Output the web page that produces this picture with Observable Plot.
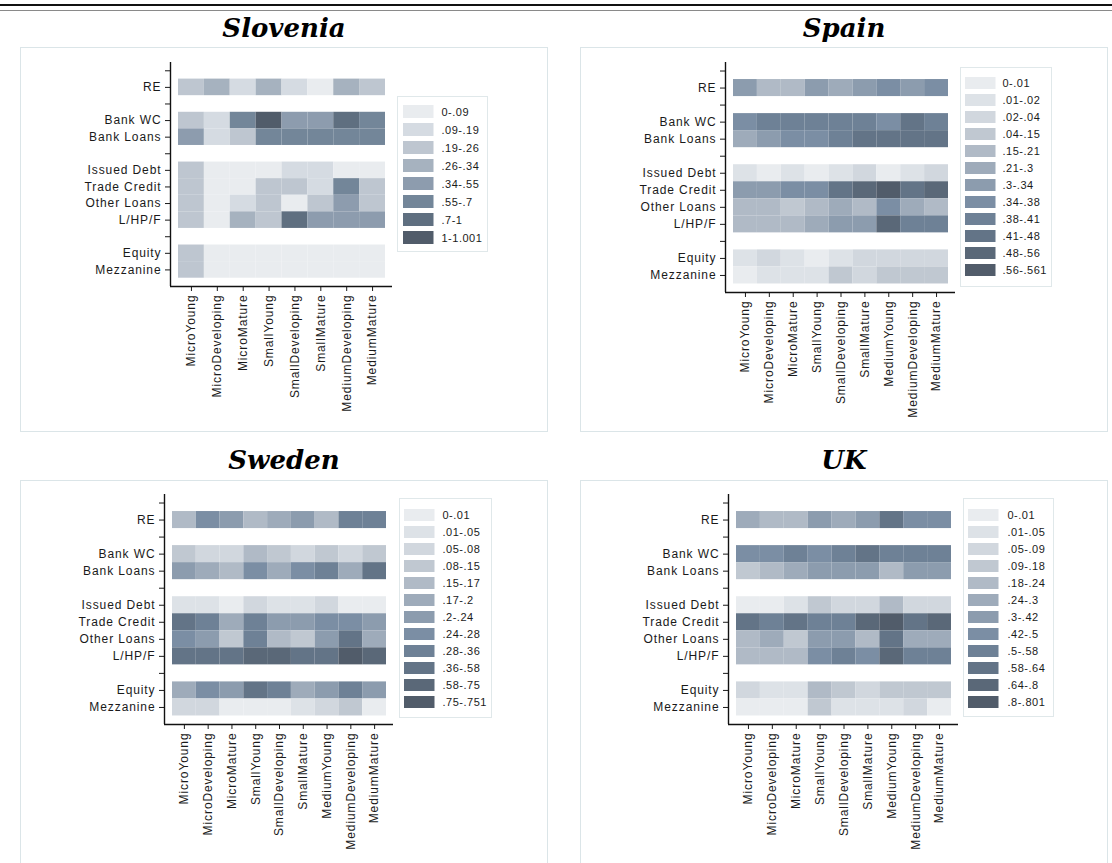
<!DOCTYPE html>
<html>
<head>
<meta charset="utf-8">
<script src="https://cdn.jsdelivr.net/npm/d3@7"></script>
<script src="https://cdn.jsdelivr.net/npm/@observablehq/plot@0.6"></script>
<style>
  html, body { margin: 0; padding: 0; background: #fff; }
  #page { position: relative; width: 1112px; height: 863px; overflow: hidden; background: #fff; }
  .abs { position: absolute; }
  .title { font-family: "DejaVu Serif", "Liberation Serif", serif; font-weight: bold; font-style: italic; font-size: 26px; line-height: 30px; color: #000; text-align: center; width: 528px; }
  .panel { border: 1px solid #dbe5e8; box-sizing: border-box; }
  .legbox { border: 1px solid #e0e8ea; box-sizing: border-box; }
</style>
</head>
<body>
<div id="page"></div>
<script>
// ---------- data ----------
const rowTicks = ["", "RE", "", "Bank WC", "Bank Loans", "", "Issued Debt", "Trade Credit", "Other Loans", "L/HP/F", "", "Equity", "Mezzanine"];
const rows = ["RE", "Bank WC", "Bank Loans", "Issued Debt", "Trade Credit", "Other Loans", "L/HP/F", "Equity", "Mezzanine"];

const colsSlovenia = ["MicroYoung", "MicroDeveloping", "MicroMature", "SmallYoung", "SmallDeveloping", "SmallMature", "MediumDeveloping", "MediumMature"];
const colsOther = ["MicroYoung", "MicroDeveloping", "MicroMature", "SmallYoung", "SmallDeveloping", "SmallMature", "MediumYoung", "MediumDeveloping", "MediumMature"];

const countries = ["Slovenia", "Spain", "Sweden", "UK"];

// values[row][col]
const valuesSlovenia = [
  [.22, .30, .14, .30, .14, .05, .30, .22],
  [.22, .14, .62, 1.0, .45, .45, .85, .62],
  [.45, .14, .22, .62, .62, .62, .62, .62],
  [.22, .05, .05, .05, .14, .14, .05, .05],
  [.22, .05, .05, .22, .22, .14, .62, .22],
  [.22, .05, .14, .22, .05, .22, .45, .22],
  [.22, .05, .30, .22, .85, .45, .45, .45],
  [.22, .05, .05, .05, .05, .05, .05, .05],
  [.22, .05, .05, .05, .05, .05, .05, .05]
];
const valuesSpain = [
  [.32, .18, .18, .32, .25, .32, .36, .32, .36],
  [.36, .40, .40, .40, .40, .40, .36, .45, .40],
  [.25, .32, .36, .36, .40, .45, .45, .45, .45],
  [.015, .005, .015, .005, .015, .03, .005, .015, .03],
  [.32, .32, .36, .36, .45, .52, .56, .45, .52],
  [.18, .18, .10, .18, .25, .18, .36, .25, .18],
  [.18, .18, .18, .25, .32, .32, .52, .40, .40],
  [.015, .03, .015, .005, .015, .03, .03, .03, .03],
  [.005, .015, .015, .015, .10, .03, .10, .10, .10]
];
const valuesSweden = [
  [.16, .26, .22, .16, .18, .22, .16, .32, .32],
  [.12, .06, .06, .16, .12, .06, .12, .06, .12],
  [.22, .18, .16, .26, .18, .26, .32, .18, .45],
  [.03, .03, .005, .06, .03, .03, .06, .005, .005],
  [.45, .32, .18, .32, .22, .22, .26, .26, .22],
  [.26, .22, .12, .32, .16, .12, .22, .45, .18],
  [.45, .45, .45, .65, .65, .45, .45, .75, .65],
  [.18, .26, .22, .45, .32, .18, .22, .32, .22],
  [.06, .06, .005, .005, .005, .03, .06, .12, .005]
];
const valuesUK = [
  [.27, .21, .21, .36, .27, .36, .61, .46, .46],
  [.46, .46, .54, .46, .54, .61, .54, .54, .54],
  [.13, .21, .27, .36, .36, .36, .21, .36, .36],
  [.005, .005, .03, .13, .07, .07, .21, .07, .07],
  [.61, .54, .61, .54, .54, .72, .80, .61, .72],
  [.21, .27, .13, .36, .36, .21, .61, .27, .27],
  [.21, .21, .21, .46, .54, .46, .72, .54, .54],
  [.07, .03, .03, .21, .13, .07, .13, .13, .13],
  [.005, .005, .005, .13, .03, .03, .03, .07, .005]
];

const thresholdsSlovenia = [.09, .19, .26, .34, .55, .7, 1];
const thresholdsSpain = [.01, .02, .04, .15, .21, .3, .34, .38, .41, .48, .56];
const thresholdsSweden = [.01, .05, .08, .15, .17, .2, .24, .28, .36, .58, .75];
const thresholdsUK = [.01, .05, .09, .18, .24, .3, .42, .5, .58, .64, .8];

const legendSlovenia = ["0-.09", ".09-.19", ".19-.26", ".26-.34", ".34-.55", ".55-.7", ".7-1", "1-1.001"];
const legendSpain = ["0-.01", ".01-.02", ".02-.04", ".04-.15", ".15-.21", ".21-.3", ".3-.34", ".34-.38", ".38-.41", ".41-.48", ".48-.56", ".56-.561"];
const legendSweden = ["0-.01", ".01-.05", ".05-.08", ".08-.15", ".15-.17", ".17-.2", ".2-.24", ".24-.28", ".28-.36", ".36-.58", ".58-.75", ".75-.751"];
const legendUK = ["0-.01", ".01-.05", ".05-.09", ".09-.18", ".18-.24", ".24-.3", ".3-.42", ".42-.5", ".5-.58", ".58-.64", ".64-.8", ".8-.801"];

const colors8 = ["#e9ecef", "#d5dbe2", "#bec6d0", "#a6b2bf", "#8d9cae", "#738699", "#5f6f80", "#515c6a"];
const colors12 = ["#e9ecef", "#dde2e7", "#d1d7de", "#c0c8d1", "#b0bac6", "#9eabba", "#8c9cae", "#7b8ea4", "#6e8196", "#637487", "#5a6878", "#515c6a"];

// ---------- layout (page coordinates) ----------
const layout = {
  Slovenia: {panel: [20, 47, 528, 385], title: 13, axisX: 170, axisTop: 62, axisBottom: 286, axisRight: 392,
             leg: [397, 96, 488, 252], swX: 403, c0: 109, c1: 239.3, labX: 441},
  Spain:    {panel: [580, 47, 528, 385], title: 13, axisX: 725, axisTop: 62, axisBottom: 292, axisRight: 955,
             leg: [960, 67, 1052, 287], swX: 965, c0: 78.3, c1: 274, labX: 1002},
  Sweden:   {panel: [20, 480, 528, 400], title: 445, axisX: 164, axisTop: 494, axisBottom: 724, axisRight: 393,
             leg: [399, 498, 492, 718], swX: 404, c0: 510.7, c1: 706.3, labX: 442},
  UK:       {panel: [580, 480, 528, 400], title: 445, axisX: 728, axisTop: 494, axisBottom: 724, axisRight: 958,
             leg: [963, 498, 1054, 717], swX: 968, c0: 510.7, c1: 706.3, labX: 1007}
};

const config = {
  Slovenia: {cols: colsSlovenia, values: valuesSlovenia, thresholds: thresholdsSlovenia, legend: legendSlovenia, colors: colors8},
  Spain: {cols: colsOther, values: valuesSpain, thresholds: thresholdsSpain, legend: legendSpain, colors: colors12},
  Sweden: {cols: colsOther, values: valuesSweden, thresholds: thresholdsSweden, legend: legendSweden, colors: colors12},
  UK: {cols: colsOther, values: valuesUK, thresholds: thresholdsUK, legend: legendUK, colors: colors12}
};

const page = document.getElementById("page");
function place(el, left, top) {
  el.classList.add("abs");
  el.style.left = left + "px";
  el.style.top = top + "px";
  page.appendChild(el);
  return el;
}

// top double rule
const r1 = document.createElement("div");
r1.style.cssText = "width:1112px;height:2px;background:#111;";
place(r1, 0, 4);
const r2 = document.createElement("div");
r2.style.cssText = "width:1112px;height:1px;background:#8a8a8a;";
place(r2, 0, 10);

const textStyle = {fontFamily: "'Liberation Sans', Arial, sans-serif", fontSize: "12px", letterSpacing: "0.9px", color: "#1a1a1a", background: "transparent", overflow: "visible"};

for (const name of countries) {
  const L = layout[name];
  const C = config[name];
  const [pl, pt, pw, ph] = L.panel;

  // title
  const t = document.createElement("div");
  t.className = "title";
  t.textContent = name;
  place(t, pl, L.title);

  // panel box
  const box = document.createElement("div");
  box.className = "panel";
  box.style.width = pw + "px";
  box.style.height = ph + "px";
  place(box, pl, pt);

  // heatmap data
  const data = [];
  C.values.forEach((rowVals, ri) => {
    rowVals.forEach((v, ci) => {
      data.push({row: rows[ri], r: rowTicks.indexOf(rows[ri]), c: ci, col: C.cols[ci], v});
    });
  });

  const n = C.cols.length;
  const colW = (L.axisRight - L.axisX - 15) / n;
  const xDomain = [-0.5 - 8 / colW, n - 0.5 + 7 / colW];
  const width = L.axisRight - pl;

  const chart = Plot.plot({
    width,
    height: ph,
    marginLeft: L.axisX - pl,
    marginRight: 0,
    marginTop: L.axisTop - pt,
    marginBottom: pt + ph - L.axisBottom,
    style: textStyle,
    x: {domain: xDomain, axis: null},
    y: {domain: [-0.5, 13], reverse: true, axis: null},
    color: {type: "threshold", domain: C.thresholds, range: C.colors},
    marks: [
      Plot.rect(data, {
        x1: d => d.c - 0.5, x2: d => d.c + 0.5,
        y1: d => d.r - 0.5, y2: d => d.r + 0.5,
        fill: "v"
      }),
      Plot.axisY({ticks: d3.range(rowTicks.length), tickFormat: i => rowTicks[i], tickSize: 5, tickPadding: 4, fill: "#1a1a1a", stroke: "#1a1a1a"}),
      Plot.axisX({ticks: d3.range(n), tickFormat: i => C.cols[i], tickRotate: -90, tickSize: 5, tickPadding: 3, fill: "#1a1a1a", stroke: "#1a1a1a"}),
      Plot.ruleX([xDomain[0]], {stroke: "#111", strokeWidth: 1.4}),
      Plot.ruleY([13], {stroke: "#111", strokeWidth: 1.4})
    ]
  });
  place(chart, pl, pt);

  // legend
  const [ll, lt, lr, lb] = L.leg;
  const lw = lr - ll, lh = lb - lt;
  const lbox = document.createElement("div");
  lbox.className = "legbox";
  lbox.style.width = lw + "px";
  lbox.style.height = lh + "px";
  place(lbox, ll, lt);

  const k = C.legend.length;
  const step = (L.c1 - L.c0) / (k - 1);
  const leg = Plot.plot({
    width: lw,
    height: lh,
    margin: 0,
    style: {fontFamily: "'Liberation Sans', Arial, sans-serif", fontSize: "11px", letterSpacing: "0.5px", background: "transparent", overflow: "visible"},
    x: {domain: [0, lw], range: [0, lw], axis: null},
    y: {type: "band", domain: C.legend, range: [L.c0 - lt - step / 2, L.c1 - lt + step / 2], paddingInner: 0.3, paddingOuter: 0.15, axis: null},
    color: {type: "ordinal", domain: C.legend, range: C.colors},
    marks: [
      Plot.barX(C.legend, {x1: L.swX - ll, x2: L.swX - ll + 30.5, y: d => d, fill: d => d}),
      Plot.text(C.legend, {x: L.labX - ll, y: d => d, text: d => d, textAnchor: "start", fill: "#1a1a1a"})
    ]
  });
  place(leg, ll, lt);
}
</script>
</body>
</html>
